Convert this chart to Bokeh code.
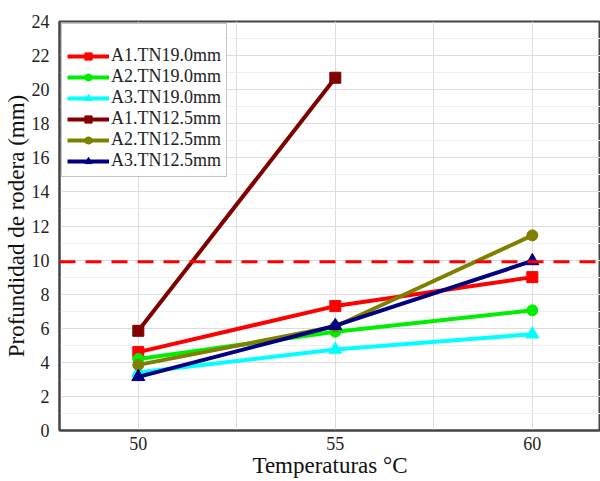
from bokeh.plotting import figure
from bokeh.models import Range1d, Span, FixedTicker, Legend, LegendItem
from bokeh.embed import file_html
from bokeh.resources import INLINE

temps = [50, 55, 60]
a1_19 = [4.6, 7.3, 9.0]
a2_19 = [4.2, 5.8, 7.05]
a3_19 = [3.4, 4.75, 5.65]
a1_125_t = [50, 55]
a1_125 = [5.85, 20.7]
a2_125 = [3.85, 6.1, 11.45]
a3_125 = [3.15, 6.15, 9.95]
limit = 9.9
y_ticks = list(range(0, 25, 2))

series = [
    ("A1.TN19.0mm", temps, a1_19, "#ff0000", "square", 11),
    ("A2.TN19.0mm", temps, a2_19, "#00ee00", "circle", 11),
    ("A3.TN19.0mm", temps, a3_19, "#00ffff", "triangle", 13),
    ("A1.TN12.5mm", a1_125_t, a1_125, "#800000", "square", 11),
    ("A2.TN12.5mm", temps, a2_125, "#808000", "circle", 11),
    ("A3.TN12.5mm", temps, a3_125, "#000080", "triangle", 13),
]

FONT = "Liberation Serif"

p = figure(width=600, height=481, output_backend="svg", toolbar_location=None,
           x_range=Range1d(48, 61.73), y_range=Range1d(0, 24),
           min_border_left=59, min_border_right=0, min_border_top=21, min_border_bottom=51)
p.background_fill_color = "white"
p.border_fill_color = "white"
p.outline_line_color = "#444444"
p.outline_line_width = 2

p.xaxis.ticker = FixedTicker(ticks=temps, minor_ticks=[47.5, 52.5, 57.5, 62.5])
p.yaxis.ticker = FixedTicker(ticks=y_ticks, minor_ticks=list(range(1, 24, 2)))
for ax in (p.xaxis[0], p.yaxis[0]):
    ax.axis_line_color = "#444444"
    ax.axis_line_width = 2
    ax.major_tick_line_color = None
    ax.minor_tick_line_color = None
    ax.major_label_text_font = FONT
    ax.major_label_text_font_size = "18px"
    ax.major_label_text_color = "#222222"
    ax.axis_label_text_font = FONT
    ax.axis_label_text_font_size = "23px"
    ax.axis_label_text_font_style = "normal"
    ax.axis_label_text_color = "#111111"
p.xaxis.axis_label = "Temperaturas °C"
p.yaxis.axis_label = "Profundidad de rodera (mm)"
p.xaxis.major_label_standoff = 0
p.yaxis.major_label_standoff = 4
p.xaxis.axis_label_standoff = 0
p.yaxis.axis_label_standoff = 0

p.xgrid.grid_line_color = "#dddddd"
p.xgrid.minor_grid_line_color = "#dddddd"
p.ygrid.grid_line_color = "#dddddd"
p.ygrid.minor_grid_line_color = "#eeeeee"

p.add_layout(Span(location=limit, dimension="width", line_color="#ff0000",
                  line_width=3, line_dash="16 10"))

items = []
for name, xs, ys, color, marker, size in series:
    r1 = p.line(xs, ys, line_color=color, line_width=4)
    r2 = p.scatter(xs, ys, marker=marker, size=size, fill_color=color, line_color=color)
    items.append(LegendItem(label=name, renderers=[r1, r2]))

legend = Legend(items=items, location="top_left", glyph_width=42, glyph_height=18,
                spacing=0, padding=5, margin=2, title=" ", title_text_font_size="14px",
                title_standoff=0,
                label_text_font=FONT, label_text_font_size="18px", label_text_color="#222222",
                border_line_color="#888888", border_line_width=1,
                label_standoff=2)
p.add_layout(legend)

open("out.html", "w").write(file_html(p, INLINE))
